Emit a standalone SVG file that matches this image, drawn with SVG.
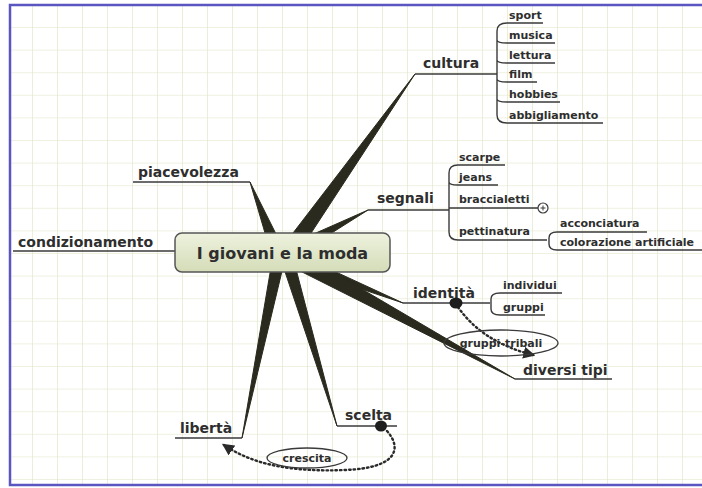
<svg xmlns="http://www.w3.org/2000/svg" width="702" height="488" viewBox="0 0 702 488">
<style>
.t{font-family:"DejaVu Sans",Verdana,sans-serif;font-weight:bold;fill:#2e2e2e}
.m{font-size:14px}
.s{font-size:11px}
.ln{fill:none;stroke:#3a3a3a;stroke-width:1.4}
.ray{fill:#2a2a1e;stroke:#2a2a1e;stroke-width:1}
.dot{fill:none;stroke:#2a2a2a;stroke-width:2.4;stroke-dasharray:1.5 3;stroke-linecap:round}
.ov{fill:none;stroke:#3a3a3a;stroke-width:1.3}
</style>
<defs>
<pattern id="grid" patternUnits="userSpaceOnUse" x="32" y="27" width="25" height="22.6">
<path d="M0 0V22.6M0 0H25" stroke="#dde4c2" stroke-width="1.2" fill="none"/>
</pattern>
<linearGradient id="ng" x1="0" y1="0" x2="0" y2="1">
<stop offset="0" stop-color="#eef2de"/>
<stop offset="1" stop-color="#d4dcb8"/>
</linearGradient>
<marker id="ar" viewBox="0 0 10 10" refX="8" refY="5" markerWidth="5" markerHeight="5" orient="auto">
<path d="M0 0L10 5L0 10z" fill="#2a2a2a"/>
</marker>
</defs>
<rect x="0" y="0" width="702" height="488" fill="#fff"/>
<rect x="10" y="5" width="700" height="480" fill="url(#grid)"/>
<rect x="10" y="5" width="700" height="480" fill="none" stroke="#5a55c0" stroke-width="2.5"/>

<g id="connectors">
<polygon class="ray" points="280,250 300,250 415,74"/>
<polygon class="ray" points="270,250 284,250 250,182"/>
<polygon class="ray" points="300,240 300,253 368,210"/>
<polygon class="ray" points="297.8,267.6 302.2,256.4 403,303"/>
<polygon class="ray" points="296.2,269 303.8,255 515,379"/>
<polygon class="ray" points="282.3,263.7 293.7,260.3 337,426"/>
<polygon class="ray" points="283.9,263.2 272.1,260.8 242,438"/>
<path class="ln" d="M13 251H176"/>
<path class="dot" d="M458 307Q482 342 533 355" marker-end="url(#ar)"/>
<path class="dot" d="M387 431C402 448 398 468 345 470C295 472 255 466 224 445" marker-end="url(#ar)"/>
</g>

<g id="center">
<rect x="175" y="233" width="215" height="39" rx="7" fill="url(#ng)" stroke="#555" stroke-width="1.5"/>
<text class="t" x="282.5" y="258.5" font-size="16" text-anchor="middle">I giovani e la moda</text>
</g>

<g id="cultura">
<path class="ln" d="M415 74H497"/>
<text class="t m" x="423" y="68">cultura</text>
<path class="ln" d="M507 23Q497 23 497 31V115Q497 123 507 123H603M497 40Q497 43 507 43H555M497 60Q497 63 507 63H555M497 79Q497 82 507 82H537M497 99Q497 102 507 102H560M507 23H543"/>
<text class="t s" x="509" y="19">sport</text>
<text class="t s" x="509" y="39">musica</text>
<text class="t s" x="509" y="59">lettura</text>
<text class="t s" x="509" y="78">film</text>
<text class="t s" x="509" y="98">hobbies</text>
<text class="t s" x="509" y="119">abbigliamento</text>
</g>

<g id="piacevolezza">
<path class="ln" d="M133 182H250"/>
<text class="t m" x="138" y="177">piacevolezza</text>
</g>

<g id="segnali">
<path class="ln" d="M368 210H449"/>
<text class="t m" x="377" y="203">segnali</text>
<path class="ln" d="M458 165Q449 165 449 173V232Q449 240 458 240H547M449 182Q449 185 458 185H498M449 208H538M458 165H505"/>
<circle cx="543" cy="208" r="5" fill="#fff" stroke="#3a3a3a" stroke-width="1.2"/>
<path d="M540.5 208H545.5M543 205.5V210.5" stroke="#3a3a3a" stroke-width="1"/>
<text class="t s" x="459" y="161">scarpe</text>
<text class="t s" x="459" y="181">jeans</text>
<text class="t s" x="459" y="203">braccialetti</text>
<text class="t s" x="459" y="235">pettinatura</text>
<path class="ln" d="M557 232Q549 232 549 238V244Q549 250 557 250H702M557 232H647"/>
<text class="t s" x="560" y="227">acconciatura</text>
<text class="t s" x="560" y="246">colorazione artificiale</text>
</g>

<g id="condizionamento">
<text class="t m" x="18" y="247">condizionamento</text>
</g>

<g id="identita">
<path class="ln" d="M403 303H490"/>
<text class="t m" x="413" y="298">identità</text>
<ellipse cx="456" cy="303" rx="6.5" ry="5.5" fill="#1e1e1e"/>
<path class="ln" d="M500 293Q491 293 491 299V309Q491 315 500 315H545M500 293H562"/>
<text class="t s" x="503" y="289">individui</text>
<text class="t s" x="503" y="311">gruppi</text>
</g>

<g id="gruppi-tribali">
<ellipse class="ov" cx="501" cy="343" rx="57" ry="13"/>
<text class="t s" x="501" y="347" text-anchor="middle">gruppi-tribali</text>
</g>

<g id="diversi-tipi">
<path class="ln" d="M515 379H612"/>
<text class="t m" x="523" y="375">diversi tipi</text>
</g>

<g id="scelta">
<path class="ln" d="M337 426H397"/>
<text class="t m" x="345" y="420">scelta</text>
<ellipse cx="381" cy="426" rx="6" ry="5.5" fill="#1e1e1e"/>
</g>

<g id="liberta">
<path class="ln" d="M175 438H242"/>
<text class="t m" x="180" y="433">libertà</text>
</g>

<g id="crescita">
<ellipse class="ov" cx="307" cy="458" rx="40" ry="10"/>
<text class="t s" x="307" y="462" text-anchor="middle">crescita</text>
</g>
</svg>
